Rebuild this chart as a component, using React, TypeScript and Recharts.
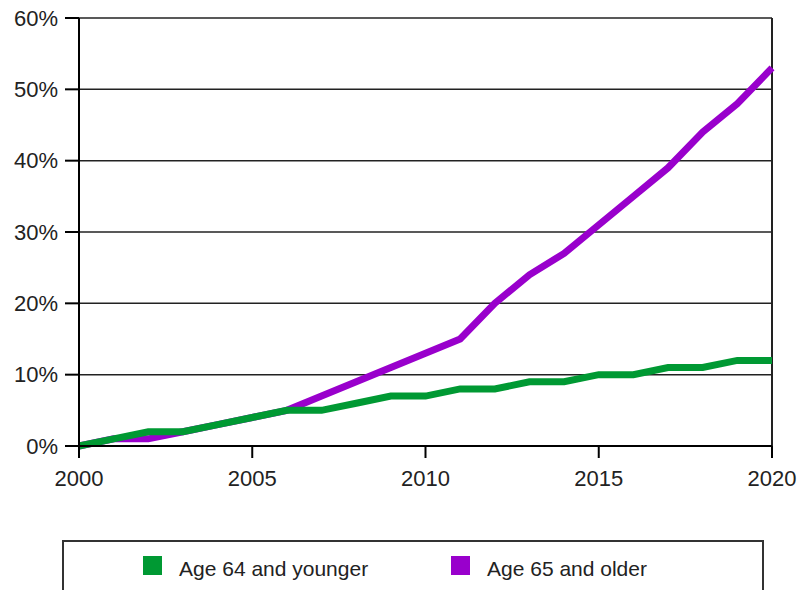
import { LineChart, Line, XAxis, YAxis, CartesianGrid, ReferenceLine } from "recharts";

const years = [2000, 2001, 2002, 2003, 2004, 2005, 2006, 2007, 2008, 2009, 2010, 2011, 2012, 2013, 2014, 2015, 2016, 2017, 2018, 2019, 2020];
const younger = [0, 1, 2, 2, 3, 4, 5, 5, 6, 7, 7, 8, 8, 9, 9, 10, 10, 11, 11, 12, 12];
const older = [0, 1, 1, 2, 3, 4, 5, 7, 9, 11, 13, 15, 20, 24, 27, 31, 35, 39, 44, 48, 53];
const xTicks = [2000, 2005, 2010, 2015, 2020];
const yTicks = [0, 10, 20, 30, 40, 50, 60];

const data = years.map((year, i) => ({ year, younger: younger[i], older: older[i] }));

const GREEN = "#009933";
const PURPLE = "#9900cc";
const tickFont = { fontFamily: "Liberation Sans", fontSize: 22, fill: "#222" };

export default function App() {
  return (
    <div style={{ position: "absolute", left: 0, top: 0, width: 802, height: 590, overflow: "hidden", background: "#fff" }}>
      <LineChart width={802} height={590} data={data} margin={{ top: 18, right: 30, left: 0, bottom: 0 }}>
        <CartesianGrid horizontal vertical={false} stroke="#222" strokeWidth={1.5} />
        <XAxis
          dataKey="year"
          type="number"
          domain={[2000, 2020]}
          ticks={xTicks}
          height={144}
          tickSize={12}
          tickMargin={12}
          stroke="#000"
          strokeWidth={2}
          tick={tickFont}
        />
        <YAxis
          type="number"
          domain={[0, 60]}
          ticks={yTicks}
          width={79}
          tickSize={14}
          tickMargin={7}
          stroke="#000"
          strokeWidth={2}
          tick={tickFont}
          tickFormatter={(v) => `${v}%`}
        />
        <ReferenceLine x={2020} stroke="#222" strokeWidth={2} />
        <Line type="linear" dataKey="older" stroke={PURPLE} strokeWidth={7} dot={false} isAnimationActive={false} />
        <Line type="linear" dataKey="younger" stroke={GREEN} strokeWidth={7} dot={false} isAnimationActive={false} />
      </LineChart>
      <div
        style={{
          position: "absolute",
          left: 62,
          top: 540,
          width: 698,
          height: 70,
          border: "2px solid #333",
          fontFamily: "Liberation Sans",
          fontSize: 21,
          color: "#222",
        }}
      >
        <div style={{ position: "absolute", left: 79, top: 14, width: 19, height: 19, background: GREEN }} />
        <div style={{ position: "absolute", left: 115, top: 15, lineHeight: "24px", whiteSpace: "nowrap" }}>Age 64 and younger</div>
        <div style={{ position: "absolute", left: 387, top: 14, width: 19, height: 19, background: PURPLE }} />
        <div style={{ position: "absolute", left: 423, top: 15, lineHeight: "24px", whiteSpace: "nowrap" }}>Age 65 and older</div>
      </div>
    </div>
  );
}
